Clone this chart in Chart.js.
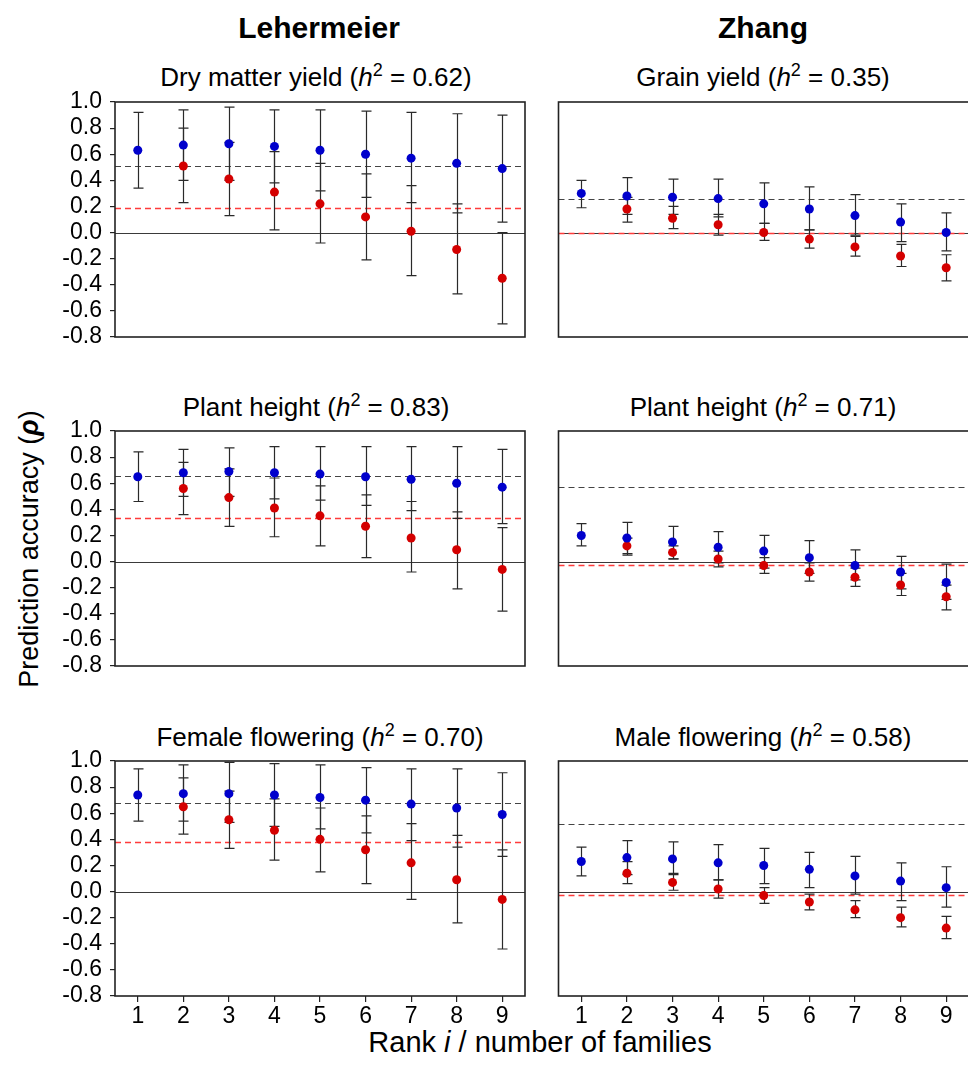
<!DOCTYPE html>
<html>
<head>
<meta charset="utf-8">
<script src="https://cdn.jsdelivr.net/npm/chart.js@4.4.1/dist/chart.umd.min.js"></script>
<style>
  html, body { margin: 0; padding: 0; background: #fff; overflow: hidden; }
  body { width: 968px; height: 1066px; position: relative; font-family: "Liberation Sans", Arial, sans-serif; color: #000; }
  canvas { position: absolute; }
  .txt { position: absolute; text-align: center; white-space: nowrap; }
  .head { font-size: 30px; font-weight: bold; width: 300px; line-height: 36px; }
  .sub { font-size: 26px; width: 440px; line-height: 30px; }
  .sub sup { font-size: 18px; vertical-align: 10px; line-height: 0; }
</style>
</head>
<body>

<div class="txt head" style="left:169px; top:10px;">Lehermeier</div>
<div class="txt head" style="left:613px; top:10px;">Zhang</div>

<div class="txt sub" style="left:96px; top:62px;">Dry matter yield (<i>h</i><sup>2</sup> = 0.62)</div>
<div class="txt sub" style="left:543px; top:62px;">Grain yield (<i>h</i><sup>2</sup> = 0.35)</div>
<div class="txt sub" style="left:96px; top:392px;">Plant height (<i>h</i><sup>2</sup> = 0.83)</div>
<div class="txt sub" style="left:543px; top:392px;">Plant height (<i>h</i><sup>2</sup> = 0.71)</div>
<div class="txt sub" style="left:100px; top:722px;">Female flowering (<i>h</i><sup>2</sup> = 0.70)</div>
<div class="txt sub" style="left:543px; top:722px;">Male flowering (<i>h</i><sup>2</sup> = 0.58)</div>

<div class="txt" style="left:-171px; top:533px; width:400px; font-size:27px; line-height:32px; transform:rotate(-90deg);">Prediction accuracy (<b><i>ρ</i></b>)</div>
<div class="txt" style="left:340px; top:1026px; width:400px; font-size:29px; line-height:32px;">Rank <i>i</i> / number of families</div>

<canvas id="c1" width="482" height="287" style="left:49px; top:76px;"></canvas>
<canvas id="c2" width="421" height="287" style="left:554px; top:76px;"></canvas>
<canvas id="c3" width="482" height="287" style="left:49px; top:405px;"></canvas>
<canvas id="c4" width="421" height="287" style="left:554px; top:405px;"></canvas>
<canvas id="c5" width="482" height="305" style="left:49px; top:735px;"></canvas>
<canvas id="c6" width="421" height="305" style="left:554px; top:735px;"></canvas>

<script>
// ranks on the x axis and y tick labels
var ranks = [1, 2, 3, 4, 5, 6, 7, 8, 9];
var yTicks = [-0.8, -0.6, -0.4, -0.2, 0.0, 0.2, 0.4, 0.6, 0.8, 1.0];

// Lehermeier - Dry matter yield
var dmyBlue   = [0.63, 0.67, 0.68, 0.66, 0.63, 0.60, 0.57, 0.53, 0.49];
var dmyBlueLo = [0.34, 0.40, 0.40, 0.38, 0.32, 0.27, 0.23, 0.15, 0.08];
var dmyBlueHi = [0.92, 0.94, 0.96, 0.94, 0.94, 0.93, 0.92, 0.91, 0.90];
var dmyRed    = [null, 0.51, 0.41, 0.31, 0.22, 0.12, 0.01, -0.13, -0.35];
var dmyRedLo  = [null, 0.23, 0.13, 0.02, -0.08, -0.21, -0.33, -0.47, -0.70];
var dmyRedHi  = [null, 0.80, 0.69, 0.62, 0.53, 0.45, 0.36, 0.22, 0.00];
var dmyRefs   = [0.51, 0.19];

// Zhang - Grain yield
var gyBlue   = [0.30, 0.28, 0.27, 0.26, 0.22, 0.18, 0.13, 0.08, 0.00];
var gyBlueLo = [0.19, 0.14, 0.14, 0.12, 0.07, 0.02, -0.02, -0.07, -0.14];
var gyBlueHi = [0.40, 0.42, 0.41, 0.41, 0.38, 0.35, 0.29, 0.22, 0.15];
var gyRed    = [null, 0.18, 0.11, 0.06, 0.00, -0.05, -0.11, -0.18, -0.27];
var gyRedLo  = [null, 0.08, 0.03, -0.02, -0.06, -0.12, -0.18, -0.26, -0.37];
var gyRedHi  = [null, 0.27, 0.20, 0.14, 0.07, 0.02, -0.03, -0.09, -0.17];
var gyRefs   = [0.26, 0.00];

// Lehermeier - Plant height
var phlBlue   = [0.65, 0.68, 0.69, 0.68, 0.67, 0.65, 0.63, 0.60, 0.57];
var phlBlueLo = [0.46, 0.50, 0.50, 0.48, 0.47, 0.43, 0.39, 0.33, 0.29];
var phlBlueHi = [0.84, 0.86, 0.87, 0.88, 0.88, 0.88, 0.88, 0.88, 0.86];
var phlRed    = [null, 0.56, 0.49, 0.41, 0.35, 0.27, 0.18, 0.09, -0.06];
var phlRedLo  = [null, 0.36, 0.27, 0.19, 0.12, 0.03, -0.08, -0.21, -0.38];
var phlRedHi  = [null, 0.76, 0.71, 0.64, 0.58, 0.51, 0.46, 0.38, 0.26];
var phlRefs   = [0.655, 0.33];

// Zhang - Plant height
var phzBlue   = [0.20, 0.18, 0.15, 0.11, 0.08, 0.03, -0.03, -0.08, -0.16];
var phzBlueLo = [0.12, 0.05, 0.02, -0.01, -0.05, -0.09, -0.14, -0.21, -0.29];
var phzBlueHi = [0.29, 0.30, 0.27, 0.23, 0.20, 0.16, 0.09, 0.04, -0.02];
var phzRed    = [null, 0.12, 0.07, 0.02, -0.03, -0.08, -0.12, -0.18, -0.27];
var phzRedLo  = [null, 0.06, 0.02, -0.04, -0.09, -0.15, -0.19, -0.26, -0.37];
var phzRedHi  = [null, 0.18, 0.12, 0.08, 0.03, -0.01, -0.05, -0.09, -0.18];
var phzRefs   = [0.57, -0.03];

// Lehermeier - Female flowering
var ffBlue   = [0.74, 0.75, 0.75, 0.74, 0.72, 0.70, 0.67, 0.64, 0.59];
var ffBlueLo = [0.54, 0.54, 0.53, 0.50, 0.48, 0.45, 0.39, 0.34, 0.27];
var ffBlueHi = [0.94, 0.97, 0.99, 0.98, 0.97, 0.95, 0.94, 0.94, 0.91];
var ffRed    = [null, 0.65, 0.55, 0.47, 0.40, 0.32, 0.22, 0.09, -0.06];
var ffRedLo  = [null, 0.44, 0.33, 0.24, 0.15, 0.06, -0.06, -0.24, -0.44];
var ffRedHi  = [null, 0.87, 0.77, 0.71, 0.64, 0.58, 0.52, 0.43, 0.32];
var ffRefs   = [0.68, 0.38];

// Zhang - Male flowering
var mfBlue   = [0.23, 0.26, 0.25, 0.22, 0.20, 0.17, 0.12, 0.08, 0.03];
var mfBlueLo = [0.12, 0.13, 0.13, 0.09, 0.06, 0.03, -0.02, -0.07, -0.12];
var mfBlueHi = [0.34, 0.39, 0.38, 0.36, 0.33, 0.30, 0.27, 0.22, 0.19];
var mfRed    = [null, 0.14, 0.07, 0.02, -0.03, -0.08, -0.14, -0.20, -0.28];
var mfRedLo  = [null, 0.06, 0.01, -0.05, -0.09, -0.14, -0.20, -0.27, -0.36];
var mfRedHi  = [null, 0.23, 0.14, 0.09, 0.03, -0.02, -0.07, -0.12, -0.19];
var mfRefs   = [0.515, -0.03];

function pts(vals) {
    return ranks.map(function (r, i) { return { x: r, y: vals[i] }; })
                .filter(function (p) { return p.y !== null; });
}

// zero line, dashed means, error bars and the frame
var panelPlugin = {
    id: 'panel',
    beforeDatasetsDraw: function (chart) {
        var ctx = chart.ctx, a = chart.chartArea;
        var x = chart.scales.x, y = chart.scales.y;
        var refs = chart.options.plugins.panel.refs;
        ctx.save();
        ctx.beginPath();
        ctx.rect(a.left, a.top, a.right - a.left, a.bottom - a.top);
        ctx.clip();

        function hline(v, color, dash, w) {
            var py = Math.round(y.getPixelForValue(v)) + 0.5;
            ctx.beginPath();
            ctx.setLineDash(dash);
            ctx.strokeStyle = color;
            ctx.lineWidth = w;
            ctx.moveTo(a.left, py);
            ctx.lineTo(a.right, py);
            ctx.stroke();
        }
        hline(0, '#3a3a3a', [], 1);
        hline(refs[0], '#444', [6, 4], 1.2);
        hline(refs[1], '#ff3b3b', [6, 4], 1.3);
        ctx.setLineDash([]);

        ctx.strokeStyle = '#2a2a2a';
        ctx.lineWidth = 1.2;
        chart.data.datasets.forEach(function (ds) {
            ranks.forEach(function (r, i) {
                if (ds.errLo[i] === null) return;
                var px = Math.round(x.getPixelForValue(r)) + 0.5;
                var y1 = y.getPixelForValue(ds.errLo[i]);
                var y2 = y.getPixelForValue(ds.errHi[i]);
                ctx.beginPath();
                ctx.moveTo(px, y1); ctx.lineTo(px, y2);
                ctx.moveTo(px - 5, y1); ctx.lineTo(px + 5, y1);
                ctx.moveTo(px - 5, y2); ctx.lineTo(px + 5, y2);
                ctx.stroke();
            });
        });
        ctx.restore();
    },
    afterDraw: function (chart) {
        var ctx = chart.ctx, a = chart.chartArea;
        ctx.save();
        ctx.strokeStyle = '#222';
        ctx.lineWidth = 1.6;
        ctx.strokeRect(a.left, a.top, a.right - a.left, a.bottom - a.top);
        ctx.restore();
    }
};

function makePanel(id, blue, blueLo, blueHi, red, redLo, redHi, refs, showY, showX) {
    new Chart(document.getElementById(id), {
        type: 'scatter',
        data: {
            datasets: [
                { data: pts(blue), errLo: blueLo, errHi: blueHi,
                  backgroundColor: '#0000cc', pointRadius: 4.5, pointHoverRadius: 4.5, pointBorderWidth: 0 },
                { data: pts(red), errLo: redLo, errHi: redHi,
                  backgroundColor: '#d40000', pointRadius: 4.5, pointHoverRadius: 4.5, pointBorderWidth: 0 }
            ]
        },
        options: {
            responsive: false,
            animation: false,
            events: [],
            layout: { padding: { left: 4, right: 6, top: 26, bottom: showX ? 4 : 26 } },
            plugins: {
                legend: { display: false },
                tooltip: { enabled: false },
                panel: { refs: refs }
            },
            scales: {
                x: {
                    type: 'linear',
                    min: 0.5, max: 9.5,
                    display: showX,
                    afterBuildTicks: function (s) { s.ticks = ranks.map(function (v) { return { value: v }; }); },
                    afterFit: function (s) { s.height = showX ? 40 : 0; },
                    grid: { drawOnChartArea: false, drawTicks: true, tickLength: 6, color: '#222', lineWidth: 1.2 },
                    border: { display: false },
                    ticks: { color: '#000', padding: 1, autoSkip: false, maxRotation: 0,
                             font: { family: 'Liberation Sans', size: 23 } }
                },
                y: {
                    min: -0.8, max: 1.0,
                    display: showY,
                    afterBuildTicks: function (s) { s.ticks = yTicks.map(function (v) { return { value: v }; }); },
                    afterFit: function (s) { s.width = showY ? 62 : 0; },
                    grid: { drawOnChartArea: false, drawTicks: true, tickLength: 5, color: '#222', lineWidth: 1.2 },
                    border: { display: false },
                    ticks: {
                        color: '#000', padding: 8, autoSkip: false,
                        font: { family: 'Liberation Sans', size: 23 },
                        callback: function (v) { return Math.abs(v) < 1e-9 ? '0.0' : v.toFixed(1); }
                    }
                }
            }
        },
        plugins: [panelPlugin]
    });
}

makePanel('c1', dmyBlue, dmyBlueLo, dmyBlueHi, dmyRed, dmyRedLo, dmyRedHi, dmyRefs, true, false);
makePanel('c2', gyBlue, gyBlueLo, gyBlueHi, gyRed, gyRedLo, gyRedHi, gyRefs, false, false);
makePanel('c3', phlBlue, phlBlueLo, phlBlueHi, phlRed, phlRedLo, phlRedHi, phlRefs, true, false);
makePanel('c4', phzBlue, phzBlueLo, phzBlueHi, phzRed, phzRedLo, phzRedHi, phzRefs, false, false);
makePanel('c5', ffBlue, ffBlueLo, ffBlueHi, ffRed, ffRedLo, ffRedHi, ffRefs, true, true);
makePanel('c6', mfBlue, mfBlueLo, mfBlueHi, mfRed, mfRedLo, mfRedHi, mfRefs, false, true);
</script>
</body>
</html>
